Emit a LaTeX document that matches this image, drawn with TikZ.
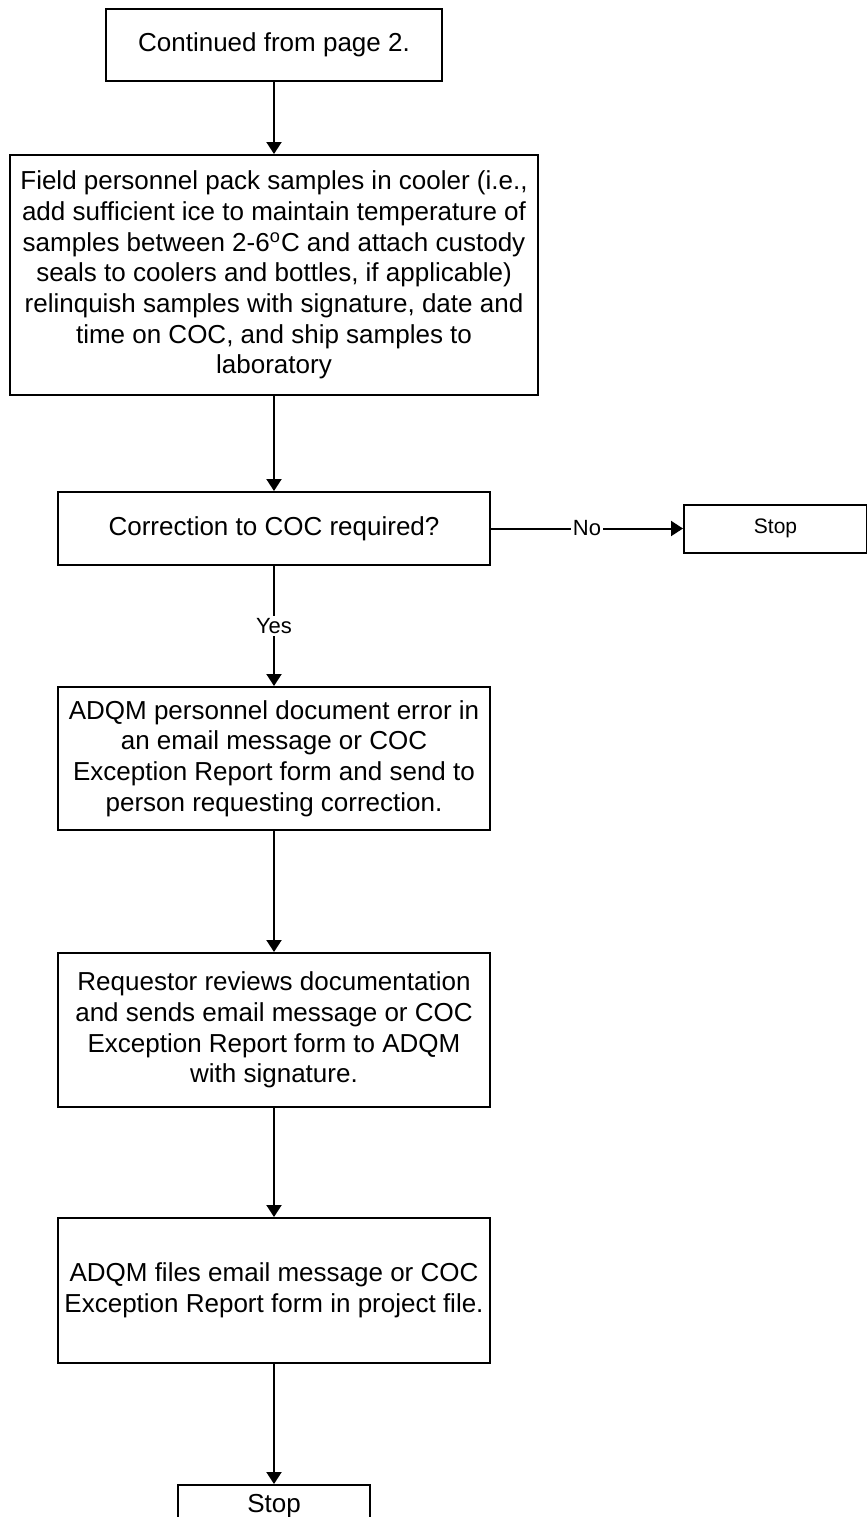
\documentclass[tikz,border=0pt]{standalone}
\usepackage{fontspec}
\setmainfont{Liberation Sans}
\usetikzlibrary{arrows.meta,positioning}

\begin{document}
\begin{tikzpicture}[node distance=36pt, line width=1pt,
    every node/.style={font=\fontsize{13}{15.35}\selectfont},
    box/.style={draw, align=center, inner sep=2pt, minimum width=216pt},
    flow/.style={-{Triangle[length=6pt,width=7.5pt]}},
    tag/.style={fill=white, inner sep=1pt, font=\fontsize{11}{13}\selectfont}]
    \useasboundingbox (0,0) rectangle (433.5pt,-758.5pt);
    \node[box, minimum width=168pt, minimum height=36pt] (start) at (137pt,-22.5pt) {Continued from page 2.};
    \node[box, minimum width=264pt, minimum height=120pt, below=36pt of start] (pack) {Field personnel pack samples in cooler (i.e.,\\
        add sufficient ice to maintain temperature of\\
        samples between 2-6\textsuperscript{o}C and attach custody\\
        seals to coolers and bottles, if applicable)\\
        relinquish samples with signature, date and\\
        time on COC, and ship samples to\\
        laboratory};
    \node[box, minimum height=36.5pt, below=47.5pt of pack] (check) {Correction to COC required?};
    \node[box, minimum width=91.5pt, minimum height=24pt, right=96pt of check, font=\fontsize{10.5}{12}\selectfont] (halt) {Stop};
    \node[box, minimum height=71.5pt, below=60pt of check] (notify) {ADQM personnel document error in\\
        an email message or COC\\
        Exception Report form and send to\\
        person requesting correction.};
    \node[box, minimum height=77pt, below=60.5pt of notify] (review) {Requestor reviews documentation\\
        and sends email message or COC\\
        Exception Report form to ADQM\\
        with signature.};
    \node[box, minimum height=72.5pt, below=54.5pt of review] (filing) {ADQM files email message or COC\\
        Exception Report form in project file.};
    \node[box, minimum width=96pt, minimum height=21.5pt, below=60pt of filing] (done) {Stop};

    \draw[flow] (start) -- (pack);
    \draw[flow] (pack) -- (check);
    \draw[flow] (check) -- node[tag] {No} (halt);
    \draw[flow] (check) -- node[tag] {Yes} (notify);
    \draw[flow] (notify) -- (review);
    \draw[flow] (review) -- (filing);
    \draw[flow] (filing) -- (done);
\end{tikzpicture}
\end{document}
